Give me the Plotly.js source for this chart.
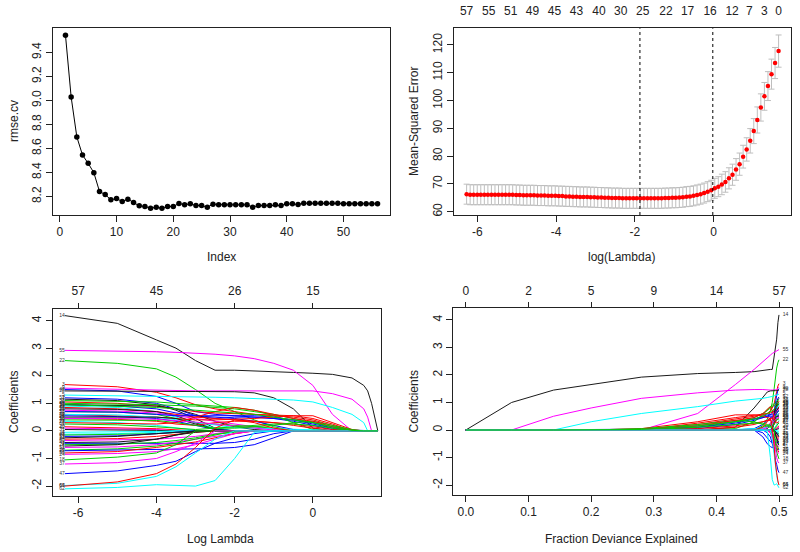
<!DOCTYPE html>
<html><head><meta charset="utf-8">
<script src="https://cdn.plot.ly/plotly-3.0.1.min.js"></script>
<style>html,body{margin:0;padding:0;background:#fff}#plot{width:800px;height:552px}</style>
</head><body><div id="plot"></div>
<script>
// ---------- Panel 1: rmse.cv vs Index ----------
const RMSE_INDEX = [1,2,3,4,5,6,7,8,9,10,11,12,13,14,15,16,17,18,19,20,21,22,23,24,25,26,27,28,29,30,31,32,33,34,35,36,37,38,39,40,41,42,43,44,45,46,47,48,49,50,51,52,53,54,55,56];
const RMSE_CV = [9.543,9.028,8.696,8.545,8.476,8.398,8.241,8.217,8.172,8.183,
 8.158,8.178,8.150,8.122,8.117,8.103,8.111,8.103,8.117,8.117,
 8.142,8.131,8.139,8.125,8.125,8.111,8.136,8.131,8.131,8.131,
 8.131,8.131,8.131,8.111,8.125,8.125,8.125,8.131,8.125,8.139,
 8.139,8.134,8.144,8.144,8.144,8.144,8.144,8.144,8.144,8.139,
 8.139,8.139,8.139,8.139,8.139,8.139];

// ---------- Panel 2: cv.glmnet ----------
const CV_LOGLAMBDA = [-6.27,-6.18,-6.09,-6.00,-5.91,-5.82,-5.73,-5.64,-5.55,-5.46,
 -5.37,-5.28,-5.19,-5.10,-5.01,-4.92,-4.83,-4.74,-4.65,-4.56,
 -4.47,-4.38,-4.29,-4.20,-4.11,-4.02,-3.93,-3.84,-3.75,-3.66,
 -3.57,-3.48,-3.39,-3.30,-3.21,-3.12,-3.03,-2.94,-2.85,-2.76,
 -2.67,-2.58,-2.49,-2.40,-2.31,-2.22,-2.13,-2.04,-1.95,-1.86,
 -1.77,-1.68,-1.59,-1.50,-1.41,-1.32,-1.23,-1.14,-1.05,-0.96,
 -0.87,-0.78,-0.69,-0.60,-0.51,-0.42,-0.33,-0.24,-0.15,-0.06,
 0.03,0.12,0.21,0.30,0.39,0.48,0.57,0.66,0.75,0.84,
 0.93,1.02,1.11,1.20,1.29,1.38,1.47,1.56,1.65];
const CV_MSE = [66.3,66.1,66.1,66.1,66.1,66.1,66.1,66.1,66.1,66.1,
 66.1,66.1,66.1,66.1,66.0,66.0,65.9,65.9,65.9,65.9,
 65.8,65.8,65.8,65.7,65.7,65.7,65.6,65.6,65.5,65.5,
 65.4,65.4,65.3,65.3,65.3,65.2,65.2,65.1,65.1,65.0,
 65.0,64.9,64.9,64.9,64.8,64.8,64.8,64.8,64.8,64.8,
 64.8,64.8,64.8,64.8,64.8,64.8,64.9,64.9,65.0,65.0,
 65.1,65.2,65.4,65.5,65.7,66.0,66.3,66.7,67.2,67.7,
 68.4,69.0,69.8,70.7,72.0,73.3,75.2,77.1,79.8,82.4,
 85.5,89.0,93.0,97.5,101.5,105.2,109.5,113.5,117.8];
const CV_SD = [3.6,3.6,3.6,3.6,3.6,3.6,3.6,3.6,3.6,3.6,
 3.6,3.6,3.6,3.6,3.6,3.6,3.6,3.6,3.6,3.6,
 3.6,3.6,3.6,3.6,3.6,3.6,3.6,3.6,3.6,3.6,
 3.6,3.6,3.6,3.6,3.6,3.6,3.6,3.6,3.6,3.6,
 3.6,3.6,3.6,3.6,3.6,3.6,3.6,3.6,3.6,3.6,
 3.6,3.6,3.6,3.6,3.6,3.6,3.6,3.6,3.6,3.6,
 3.6,3.6,3.6,3.6,3.6,3.6,3.6,3.6,3.6,3.6,
 3.6,3.6,3.7,3.7,3.8,3.8,3.9,4.0,4.1,4.2,
 4.4,4.5,4.7,4.9,5.0,5.2,5.4,5.6,5.8];
const CV_VLINES = [-1.87, -0.02];
const CV_TOP_POS = [-6.27,-5.71,-5.15,-4.60,-4.04,-3.48,-2.91,-2.36,-1.80,-1.21,-0.66,-0.09,0.47,0.91,1.29,1.65];
const CV_TOP_LAB = ['57','55','51','49','45','43','40','30','25','22','17','16','12','7','3','0'];

// ---------- Panels 3 & 4: coefficient paths ----------
const PATH_LOGLAMBDA = [-6.34,-5,-4,-3.5,-3,-2.5,-2,-1.5,-1,-0.5,0,0.5,1.0,1.3,1.4,1.5,1.66];
const PATH_DEV = [0.4997,0.498,0.496,0.494,0.492,0.489,0.486,0.481,0.474,0.46,0.43,0.37,0.28,0.2,0.14,0.073,0];
const COEF_IDS = [14,55,22,3,9,40,28,5,52,7,33,26,45,10,11,29,44,19,36,57,16,2,35,58,25,50,12,39,23,8,61,20,42,31,4,41,48,53,13,34,60,43,1,27,6,51,30,15,56,24,18,37,47,65,64,62,17];
const COEF_COLOR_CODE = ['k','m','g','r','m','b','k','c','b','k','g','r','g','b','k','c','r','k','m','g','b','r','c','b','k','r','m','g','c','r','g','r','m','k','c','c','g','b','k','r','m','k','b','g','k','m','g','b','r','m','g','m','b','c','r','c','g'];
const COEF_PATHS = [
 [4.18,3.9,3.3,3.0,2.55,2.2,2.2,2.18,2.15,2.12,2.09,2.05,1.92,1.65,1.45,1.0,0],
 [2.92,2.9,2.87,2.85,2.82,2.78,2.72,2.62,2.45,2.2,1.65,0.6,0,0,0,0,0],
 [2.55,2.45,2.25,1.95,1.5,1.0,0.7,0.4,0.15,0,0,0,0,0,0,0,0],
 [1.68,1.6,1.4,1.2,0.95,0.8,0.7,0.6,0.55,0.5,0.4,0.2,0,0,0,0,0],
 [1.55,1.5,1.47,1.46,1.45,1.45,1.45,1.46,1.47,1.47,1.45,1.35,1.15,0.8,0.5,0,0],
 [1.5,1.45,1.25,1.0,0.7,0.6,0.55,0.5,0.45,0.4,0.3,0.15,0,0,0,0,0],
 [1.45,1.43,1.43,1.43,1.43,1.42,1.42,1.38,1.2,0.8,0.1,0,0,0,0,0,0],
 [1.3,1.28,1.26,1.25,1.24,1.22,1.2,1.18,1.15,1.12,1.05,0.85,0.6,0.3,0,0,0],
 [1.2,1.15,1.0,0.8,0.55,0.45,0.5,0.5,0.45,0.35,0.2,0.05,0,0,0,0,0],
 [1.15,1.1,0.95,0.75,0.45,0.1,0,0,0,0,0,0,0,0,0,0,0],
 [1.1,1.08,1.05,1.0,0.95,0.9,0.85,0.75,0.55,0.3,0.05,0,0,0,0,0,0],
 [1.05,1.0,0.9,0.8,0.7,0.65,0.62,0.6,0.58,0.55,0.45,0.25,0,0,0,0,0],
 [1.0,0.98,0.95,0.92,0.9,0.85,0.8,0.7,0.6,0.45,0.3,0.1,0,0,0,0,0],
 [0.95,0.9,0.8,0.65,0.55,0.5,0.45,0.35,0.2,0.05,0,0,0,0,0,0,0],
 [0.95,0.93,0.9,0.8,0.6,0.35,0.15,0.05,0,0,0,0,0,0,0,0,0],
 [0.9,0.85,0.7,0.5,0.3,0.1,0,0,0,0,0,0,0,0,0,0,0],
 [0.85,0.8,0.7,0.6,0.5,0.45,0.4,0.35,0.3,0.2,0.1,0,0,0,0,0,0],
 [0.8,0.78,0.7,0.55,0.3,0.05,0,0,0,0,0,0,0,0,0,0,0],
 [0.75,0.72,0.65,0.55,0.45,0.35,0.25,0.15,0.05,0,0,0,0,0,0,0,0],
 [0.7,0.68,0.6,0.45,0.3,0.25,0.2,0.15,0.1,0,0,0,0,0,0,0,0],
 [0.7,0.68,0.6,0.55,0.55,0.55,0.55,0.55,0.5,0.4,0.25,0.1,0.03,0.01,0,0,0],
 [0.6,0.55,0.5,0.45,0.4,0.4,0.42,0.45,0.5,0.55,0.55,0.3,0.05,0,0,0,0],
 [0.6,0.58,0.5,0.4,0.3,0.2,0.12,0.1,0.08,0.05,0.02,0,0,0,0,0,0],
 [0.55,0.52,0.45,0.35,0.2,0.05,0,0,0,0,0,0,0,0,0,0,0],
 [0.5,0.5,0.5,0.45,0.25,0.05,0,0,0,0,0,0,0,0,0,0,0],
 [0.45,0.42,0.35,0.25,0.2,0.3,0.35,0.35,0.3,0.25,0.15,0.05,0,0,0,0,0],
 [0.45,0.45,0.42,0.38,0.32,0.25,0.18,0.1,0.03,0,0,0,0,0,0,0,0],
 [0.4,0.4,0.38,0.3,0.2,0.1,0.1,0.15,0.2,0.3,0.35,0.2,0.05,0,0,0,0],
 [0.35,0.3,0.2,0.1,0.02,0,0,0,0,0,0,0,0,0,0,0,0],
 [0.3,0.28,0.25,0.3,0.5,0.7,0.85,0.75,0.6,0.45,0.35,0.15,0.02,0,0,0,0],
 [0.25,0.22,0.15,0.1,0.05,0.1,0.15,0.2,0.25,0.25,0.2,0.1,0,0,0,0,0],
 [0.15,0.12,0.08,0.04,0,0,0,0,0,0,0,0,0,0,0,0,0],
 [0.1,0.08,0.05,0,0,0,0,0,0,0,0,0,0,0,0,0,0],
 [0.05,0.04,0.02,0,0,0,0,0,0,0,0,0,0,0,0,0,0],
 [-0.05,-0.04,-0.02,0,0,0,0,0,0,0,0,0,0,0,0,0,0],
 [-0.12,-0.1,-0.05,0,0,0,0,0,0,0,0,0,0,0,0,0,0],
 [-0.15,-0.13,-0.1,-0.06,-0.02,0,0,0,0,0,0,0,0,0,0,0,0],
 [-0.2,-0.18,-0.1,-0.05,0,0,0,0,0,0,0,0,0,0,0,0,0],
 [-0.25,-0.2,-0.1,-0.05,0,0,0,0,0,0,0,0,0,0,0,0,0],
 [-0.3,-0.28,-0.2,-0.12,-0.05,0,0,0,0,0,0,0,0,0,0,0,0],
 [-0.35,-0.33,-0.3,-0.25,-0.2,-0.1,0,0,0,0,0,0,0,0,0,0,0],
 [-0.42,-0.4,-0.3,-0.15,0,0,0,0,0,0,0,0,0,0,0,0,0],
 [-0.45,-0.45,-0.45,-0.45,-0.45,-0.45,-0.42,-0.3,-0.1,0,0,0,0,0,0,0,0],
 [-0.5,-0.48,-0.42,-0.35,-0.25,-0.12,-0.05,0,0,0,0,0,0,0,0,0,0],
 [-0.55,-0.5,-0.3,-0.15,-0.05,0,0,0,0,0,0,0,0,0,0,0,0],
 [-0.6,-0.58,-0.5,-0.4,-0.3,-0.2,-0.1,0,0,0,0,0,0,0,0,0,0],
 [-0.7,-0.65,-0.55,-0.45,-0.3,-0.15,0,0,0,0,0,0,0,0,0,0,0],
 [-0.72,-0.7,-0.68,-0.66,-0.65,-0.64,-0.6,-0.5,-0.25,0,0,0,0,0,0,0,0],
 [-0.8,-0.75,-0.6,-0.5,-0.4,-0.25,-0.1,0,0,0,0,0,0,0,0,0,0],
 [-0.85,-0.82,-0.75,-0.65,-0.5,-0.3,-0.1,0,0,0,0,0,0,0,0,0,0],
 [-1.05,-0.95,-0.8,-0.5,0,0,0,0,0,0,0,0,0,0,0,0,0],
 [-1.2,-1.15,-1.0,-0.75,-0.45,0,0,0,0,0,0,0,0,0,0,0,0],
 [-1.55,-1.45,-1.25,-1.1,-0.75,-0.45,-0.25,-0.1,0,0,0,0,0,0,0,0,0],
 [-1.98,-1.9,-1.65,-1.3,-0.8,-0.3,0,0,0,0,0,0,0,0,0,0,0],
 [-2.0,-1.85,-1.55,-1.2,-0.6,0.1,0.4,0.3,0.1,0,0,0,0,0,0,0,0],
 [-2.1,-2.05,-1.95,-1.98,-2.0,-1.8,-1.0,-0.05,0,0,0,0,0,0,0,0,0],
 [0.95,0.9,0.85,0.8,0.75,0.7,0.65,0.6,0.5,0.4,0.3,0.15,0.02,0,0,0,0]
];
const LAMBDA_TOP_POS = [-6,-4,-2,0];
const LAMBDA_TOP_LAB = ['57','45','26','15'];
const DEV_TOP_POS = [0,0.1,0.2,0.3,0.4,0.5];
const DEV_TOP_LAB = ['0','2','5','9','14','57'];

// ---------- styling ----------
const FONT = 'Liberation Sans, Arial, sans-serif';
const INK = '#222';
const PALETTE = {k:'#1a1a1a', r:'#FF0000', g:'#00CD00', b:'#0000FF', c:'#00FFFF', m:'#FF00FF'};
const W = 800, H = 552;
const px = x => x / W, py = y => 1 - y / H;
const hy = v => (v < 0 ? '-' + String(-v) : String(v));

const traces = [];
traces.push({x: RMSE_INDEX, y: RMSE_CV, xaxis:'x', yaxis:'y', type:'scatter', mode:'lines+markers',
  line:{color:'#000', width:1}, marker:{color:'#000', size:5.5}, hoverinfo:'skip'});
traces.push({x: CV_LOGLAMBDA, y: CV_MSE, xaxis:'x2', yaxis:'y2', type:'scatter', mode:'markers',
  marker:{color:'#FF0000', size:4.5},
  error_y:{type:'data', array: CV_SD, visible:true, color:'#BEBEBE', thickness:1, width:3}, hoverinfo:'skip'});
traces.push({x:[CV_LOGLAMBDA[0]], y:[CV_MSE[0]], xaxis:'x5', yaxis:'y2', mode:'markers', marker:{opacity:0}, hoverinfo:'skip'});

COEF_PATHS.forEach((p, i) => {
  const col = PALETTE[COEF_COLOR_CODE[i]];
  traces.push({x: PATH_LOGLAMBDA, y: p, xaxis:'x3', yaxis:'y3', type:'scatter', mode:'lines',
    line:{color: col, width:1}, hoverinfo:'skip'});
  traces.push({x: PATH_DEV, y: p, xaxis:'x4', yaxis:'y4', type:'scatter', mode:'lines',
    line:{color: col, width:1}, hoverinfo:'skip'});
});
const firstVals = COEF_PATHS.map(p => p[0]);
traces.push({x: COEF_PATHS.map(() => PATH_LOGLAMBDA[0]), y: firstVals, text: COEF_IDS.map(String),
  xaxis:'x3', yaxis:'y3', mode:'text', textposition:'middle left',
  textfont:{family: FONT, size:5, color:'#333'}, hoverinfo:'skip'});
traces.push({x: COEF_PATHS.map(() => PATH_DEV[0] + 0.006), y: firstVals, text: COEF_IDS.map(String),
  xaxis:'x4', yaxis:'y4', mode:'text', textposition:'middle right',
  textfont:{family: FONT, size:5, color:'#333'}, hoverinfo:'skip'});
traces.push({x:[PATH_LOGLAMBDA[0]], y:[0], xaxis:'x6', yaxis:'y3', mode:'markers', marker:{opacity:0}, hoverinfo:'skip'});
traces.push({x:[PATH_DEV[0]], y:[0], xaxis:'x7', yaxis:'y4', mode:'markers', marker:{opacity:0}, hoverinfo:'skip'});

const baseAxis = {showline:true, mirror:true, linecolor:INK, linewidth:1, ticks:'outside', ticklen:6,
  tickcolor:INK, tickwidth:1, showgrid:false, zeroline:false, tickfont:{family:FONT, size:12, color:INK}, fixedrange:true};
const yAx = (dom, range, vals) => Object.assign({}, baseAxis, {domain: dom, range: range,
  tickvals: vals, ticktext: vals.map(hy), tickangle:-90});
const xAx = (dom, range, vals, txt, anchor) => Object.assign({}, baseAxis, {domain: dom, range: range,
  tickvals: vals, ticktext: txt || vals.map(hy), anchor: anchor});

const D1x = [px(53), px(390)], D2x = [px(454), px(791)];
const D3x = [px(52.5), px(381)], D4x = [px(453.3), px(791.7)];
const Dtop = [py(215), py(28.3)], Dbot3 = [py(496), py(309)], Dbot4 = [py(495), py(308.3)];

const layout = {
  width: W, height: H, margin:{l:0, r:0, t:0, b:0}, paper_bgcolor:'#fff', plot_bgcolor:'#fff', showlegend:false,
  font:{family:FONT, color:INK},
  xaxis: xAx(D1x, [-1.2, 58.2], [0,10,20,30,40,50], null, 'y'),
  yaxis: Object.assign(yAx(Dtop, [8.046, 9.6], [8.2,8.4,8.6,8.8,9.0,9.2,9.4]), {anchor:'x', ticktext:['8.2','8.4','8.6','8.8','9.0','9.2','9.4']}),
  xaxis2: xAx(D2x, [-6.59, 1.965], [-6,-4,-2,0], null, 'y2'),
  yaxis2: Object.assign(yAx(Dtop, [58.8, 126.0], [60,70,80,90,100,110,120]), {anchor:'x2'}),
  xaxis3: xAx(D3x, [-6.656, 1.741], [-6,-4,-2,0], null, 'y3'),
  yaxis3: Object.assign(yAx(Dbot3, [-2.36, 4.42], [-2,-1,0,1,2,3,4]), {anchor:'x3'}),
  xaxis4: xAx(D4x, [-0.02, 0.52], [0,0.1,0.2,0.3,0.4,0.5], ['0.0','0.1','0.2','0.3','0.4','0.5'], 'y4'),
  yaxis4: Object.assign(yAx(Dbot4, [-2.36, 4.42], [-2,-1,0,1,2,3,4]), {anchor:'x4'}),
  xaxis5: {overlaying:'x2', side:'top', anchor:'y2', range:[-6.59, 1.965], tickvals: CV_TOP_POS, ticktext: CV_TOP_LAB,
    ticks:'outside', ticklen:8, tickcolor:'rgba(0,0,0,0)', showline:false, showgrid:false, zeroline:false,
    tickfont:{family:FONT, size:12, color:INK}, fixedrange:true},
  xaxis6: {overlaying:'x3', side:'top', anchor:'y3', range:[-6.656, 1.741], tickvals: LAMBDA_TOP_POS, ticktext: LAMBDA_TOP_LAB,
    ticks:'outside', ticklen:5, tickcolor:INK, ticklabelstandoff:3, showline:false, showgrid:false, zeroline:false,
    tickfont:{family:FONT, size:12, color:INK}, fixedrange:true},
  xaxis7: {overlaying:'x4', side:'top', anchor:'y4', range:[-0.02, 0.52], tickvals: DEV_TOP_POS, ticktext: DEV_TOP_LAB,
    ticks:'outside', ticklen:5, tickcolor:INK, ticklabelstandoff:3, showline:false, showgrid:false, zeroline:false,
    tickfont:{family:FONT, size:12, color:INK}, fixedrange:true},
  shapes: CV_VLINES.map(v => ({type:'line', xref:'x2', yref:'y2 domain', x0:v, x1:v, y0:0, y1:1,
    line:{color:'#000', width:1, dash:'dot'}})),
  annotations: [
    {text:'rmse.cv', x:px(13.5), y:py(121.5), textangle:-90},
    {text:'Index', x:px(221.5), y:py(257)},
    {text:'Mean-Squared Error', x:px(413.5), y:py(121.5), textangle:-90},
    {text:'log(Lambda)', x:px(621), y:py(257)},
    {text:'Coefficients', x:px(13.5), y:py(402.5), textangle:-90},
    {text:'Log Lambda', x:px(220), y:py(538.5)},
    {text:'Coefficients', x:px(413.5), y:py(402), textangle:-90},
    {text:'Fraction Deviance Explained', x:px(621.5), y:py(538.5)}
  ].map(a => Object.assign({xref:'paper', yref:'paper', showarrow:false, xanchor:'center', yanchor:'middle',
    font:{family:FONT, size:12, color:INK}}, a))
};
Plotly.newPlot('plot', traces, layout, {staticPlot:true, displayModeBar:false});
</script></body></html>
